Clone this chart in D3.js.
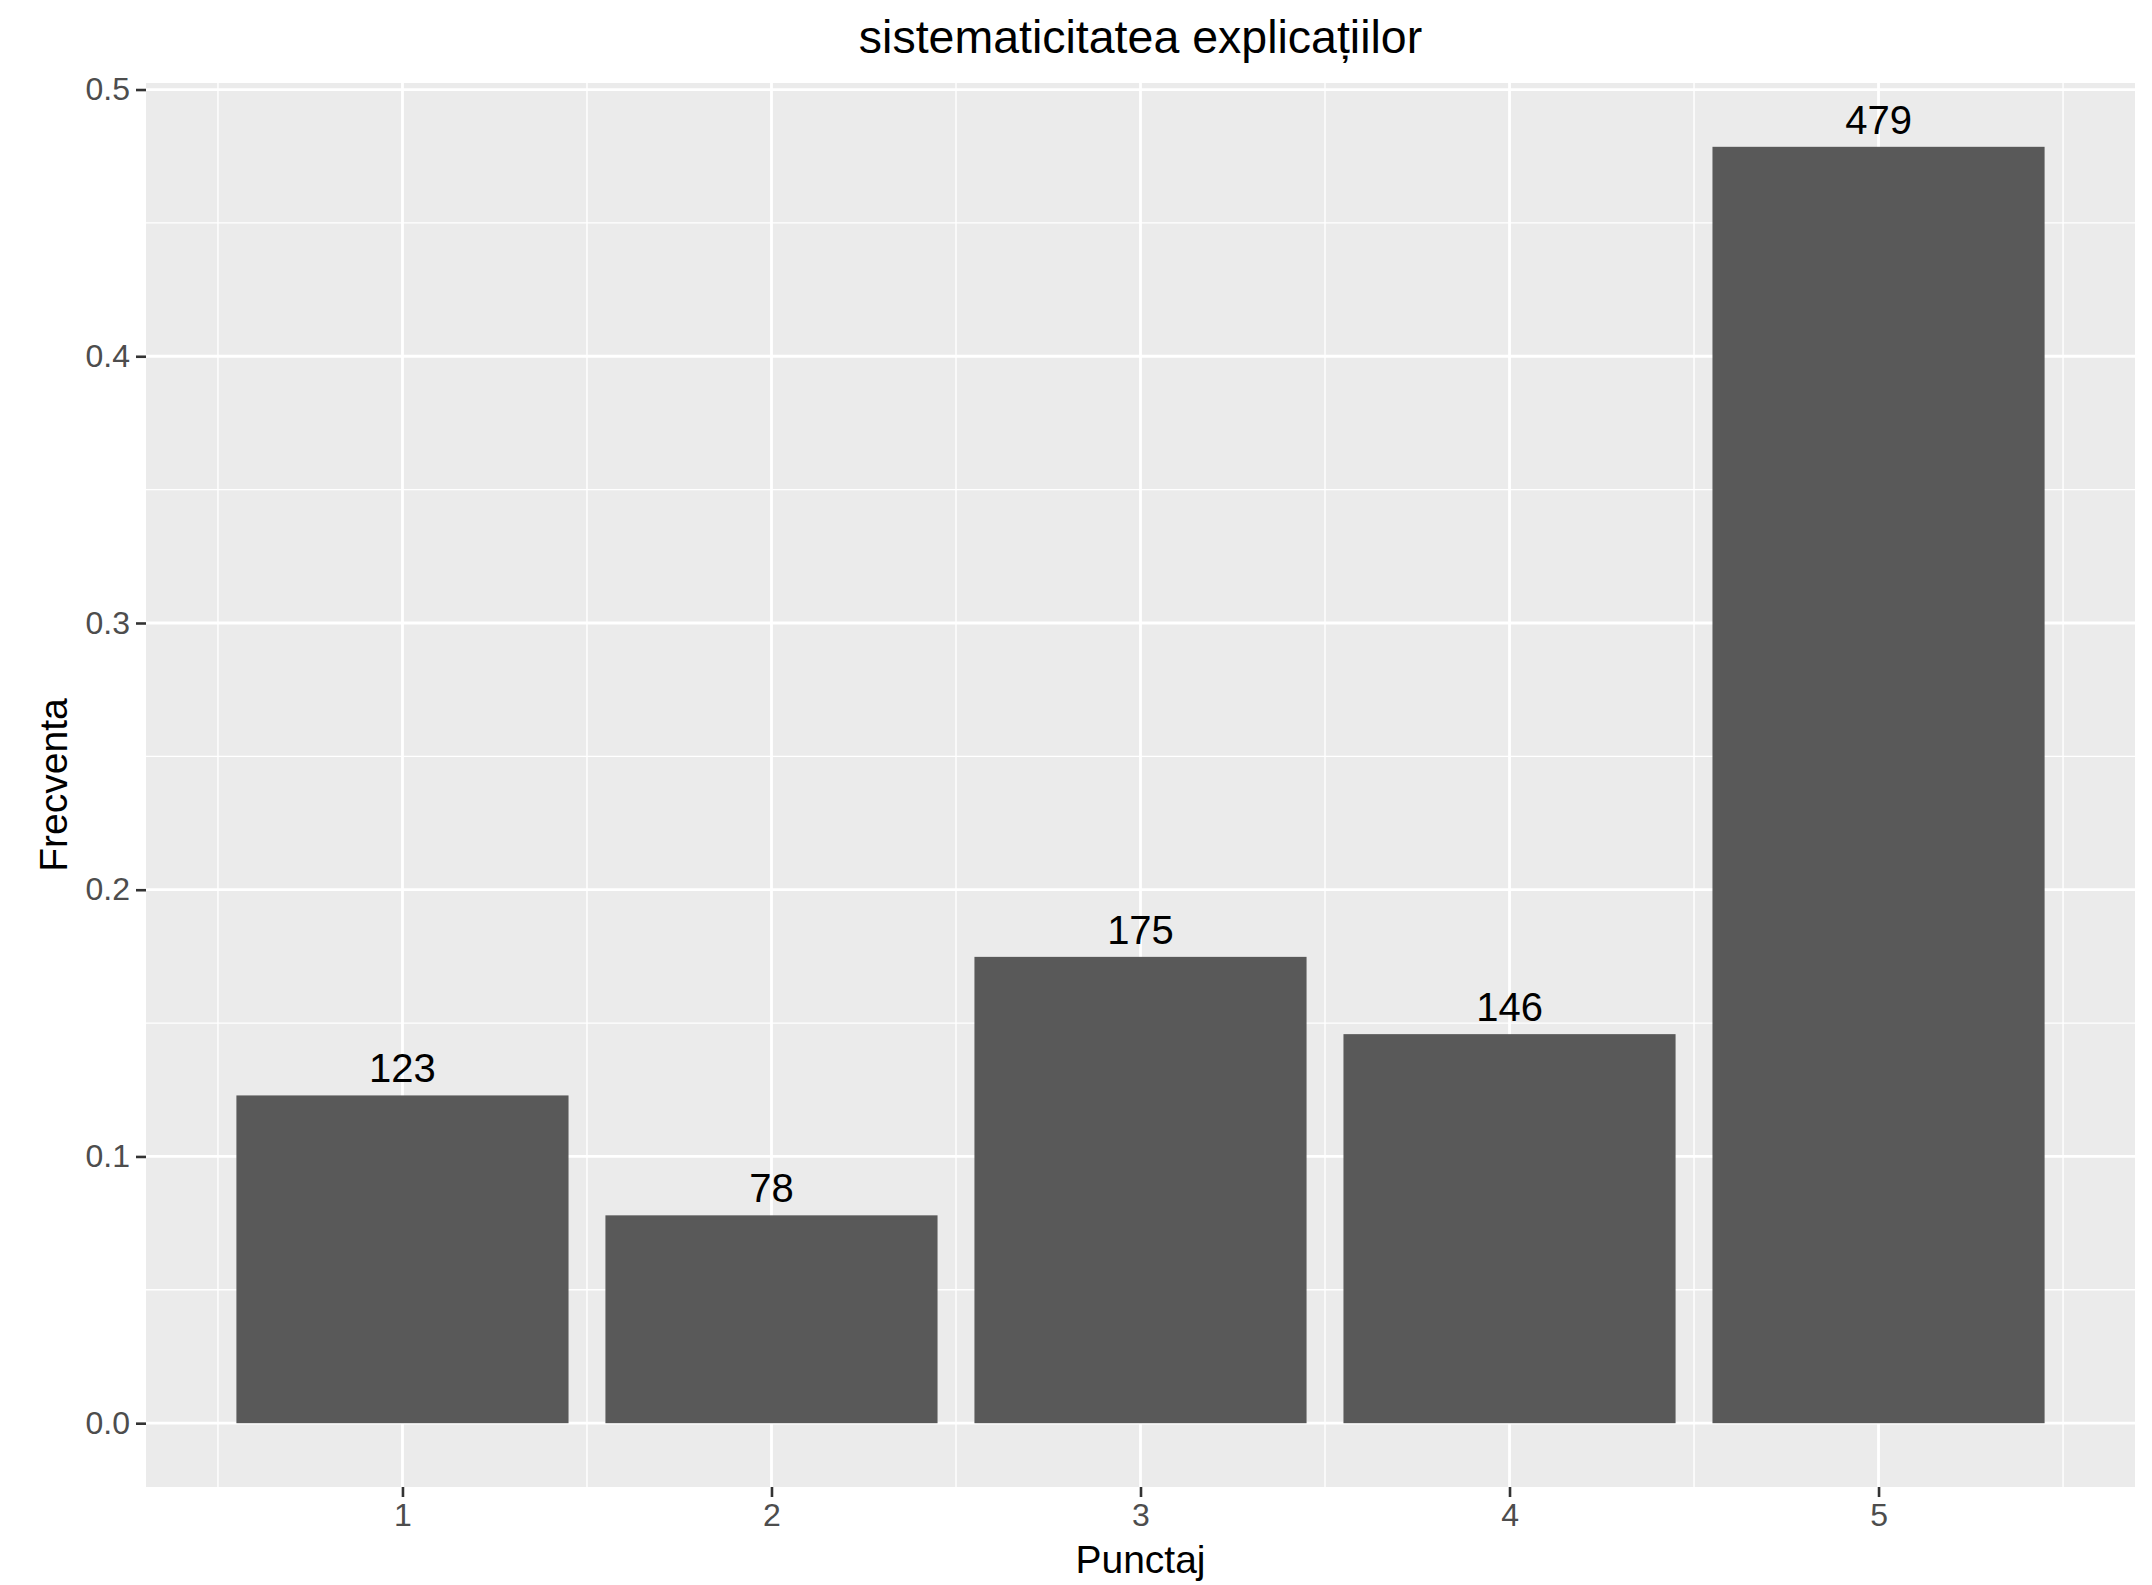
<!DOCTYPE html>
<html>
<head>
<meta charset="utf-8">
<script src="https://cdn.jsdelivr.net/npm/d3@7"></script>
<style>
  html, body { margin: 0; padding: 0; background: #ffffff; }
  svg { display: block; }
  text { font-family: "Liberation Sans", Arial, Helvetica, sans-serif; }
</style>
</head>
<body>
<script>
const categories = [1, 2, 3, 4, 5];
const counts = [123, 78, 175, 146, 479];
const yTicks = [0.0, 0.1, 0.2, 0.3, 0.4, 0.5];
const yMinor = [0.05, 0.15, 0.25, 0.35, 0.45];
const xMinor = [0.5, 1.5, 2.5, 3.5, 4.5, 5.5];
const titleText = "sistematicitatea explicațiilor";
const xTitle = "Punctaj";
const yTitle = "Frecventa";

const W = 2152, H = 1585;
const panel = { left: 146, right: 2135, top: 83, bottom: 1487 };

const total = d3.sum(counts);
const data = categories.map((c, i) => ({ cat: c, count: counts[i], freq: counts[i] / total }));

const barW = 0.9;
const xMinD = 1 - barW / 2, xMaxD = 5 + barW / 2;
const xPad = (xMaxD - xMinD) * 0.05;
const x = d3.scaleLinear().domain([xMinD - xPad, xMaxD + xPad]).range([panel.left, panel.right]);
const yMax = d3.max(data, d => d.freq);
const yPad = yMax * 0.05;
const y = d3.scaleLinear().domain([-yPad, yMax + yPad]).range([panel.bottom, panel.top]);

const svg = d3.select("body").append("svg").attr("width", W).attr("height", H);
svg.append("rect").attr("width", W).attr("height", H).attr("fill", "#ffffff");

svg.append("rect")
  .attr("x", panel.left).attr("y", panel.top)
  .attr("width", panel.right - panel.left).attr("height", panel.bottom - panel.top)
  .attr("fill", "#EBEBEB");

const grid = svg.append("g");
grid.selectAll("line.ymin").data(yMinor).enter().append("line")
  .attr("x1", panel.left).attr("x2", panel.right)
  .attr("y1", d => y(d)).attr("y2", d => y(d))
  .attr("stroke", "#ffffff").attr("stroke-width", 1.4);
grid.selectAll("line.xmin").data(xMinor).enter().append("line")
  .attr("y1", panel.top).attr("y2", panel.bottom)
  .attr("x1", d => x(d)).attr("x2", d => x(d))
  .attr("stroke", "#ffffff").attr("stroke-width", 1.4);
grid.selectAll("line.ymaj").data(yTicks).enter().append("line")
  .attr("x1", panel.left).attr("x2", panel.right)
  .attr("y1", d => y(d)).attr("y2", d => y(d))
  .attr("stroke", "#ffffff").attr("stroke-width", 2.8);
grid.selectAll("line.xmaj").data(categories).enter().append("line")
  .attr("y1", panel.top).attr("y2", panel.bottom)
  .attr("x1", d => x(d)).attr("x2", d => x(d))
  .attr("stroke", "#ffffff").attr("stroke-width", 2.8);

svg.append("g").selectAll("rect").data(data).enter().append("rect")
  .attr("x", d => x(d.cat - barW / 2))
  .attr("width", d => x(d.cat + barW / 2) - x(d.cat - barW / 2))
  .attr("y", d => y(d.freq))
  .attr("height", d => y(0) - y(d.freq))
  .attr("fill", "#595959");

svg.append("g").selectAll("text").data(data).enter().append("text")
  .attr("x", d => x(d.cat))
  .attr("y", d => y(d.freq) - 13)
  .attr("text-anchor", "middle")
  .attr("font-size", 40)
  .attr("fill", "#000000")
  .text(d => d.count);

const yAxis = d3.axisLeft(y).tickValues(yTicks).tickFormat(d3.format(".1f")).tickSize(10).tickPadding(6);
const gy = svg.append("g").attr("transform", `translate(${panel.left},0)`).call(yAxis);
gy.select(".domain").remove();
gy.selectAll(".tick line").attr("stroke", "#333333").attr("stroke-width", 2.6);
gy.selectAll(".tick text").attr("font-size", 32).attr("fill", "#4D4D4D")
  .attr("font-family", "'Liberation Sans', Arial, sans-serif");

const xAxis = d3.axisBottom(x).tickValues(categories).tickFormat(d3.format("d")).tickSize(10).tickPadding(6);
const gx = svg.append("g").attr("transform", `translate(0,${panel.bottom})`).call(xAxis);
gx.select(".domain").remove();
gx.selectAll(".tick line").attr("stroke", "#333333").attr("stroke-width", 2.6);
gx.selectAll(".tick text").attr("font-size", 32).attr("fill", "#4D4D4D")
  .attr("font-family", "'Liberation Sans', Arial, sans-serif");

svg.append("text")
  .attr("x", (panel.left + panel.right) / 2).attr("y", 53)
  .attr("text-anchor", "middle").attr("font-size", 46.5).attr("fill", "#000000")
  .text(titleText);
svg.append("text")
  .attr("x", (panel.left + panel.right) / 2).attr("y", 1573)
  .attr("text-anchor", "middle").attr("font-size", 39).attr("fill", "#000000")
  .text(xTitle);
svg.append("text")
  .attr("transform", `translate(67,${(panel.top + panel.bottom) / 2}) rotate(-90)`)
  .attr("text-anchor", "middle").attr("font-size", 39).attr("fill", "#000000")
  .text(yTitle);
</script>
</body>
</html>
